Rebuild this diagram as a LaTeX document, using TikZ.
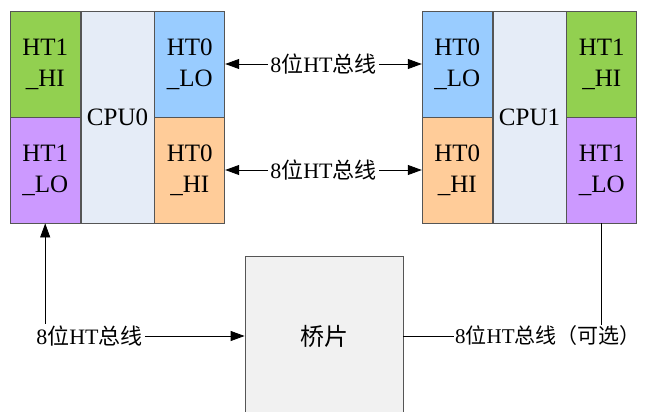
\documentclass[tikz,border=0pt]{standalone}
\usepackage{fontspec}
\setmainfont{Liberation Serif}
\newfontfamily\cjk{Noto Sans CJK SC}
\usepackage{tikz}
\usetikzlibrary{arrows.meta,positioning,calc}
\definecolor{frame}{HTML}{555555}
\definecolor{hgreen}{HTML}{92D050}
\definecolor{hblue}{HTML}{99CCFF}
\definecolor{horange}{HTML}{FFCC99}
\definecolor{hpurple}{HTML}{CC99FF}
\definecolor{core}{HTML}{E5ECF7}
\definecolor{bridgefill}{HTML}{F1F1F1}
\newcommand{\busname}{8{\cjk 位}HT{\cjk 总线}}

\begin{document}
\begin{tikzpicture}[
  x=1pt, y=-1pt,
  cell/.style={draw=frame, line width=0.8pt, minimum width=70pt, minimum height=106pt, inner sep=0pt, align=center, font=\fontsize{25}{31}\selectfont},
  core/.style={cell, fill=core, minimum width=73pt, minimum height=212pt},
  hg/.style={cell, fill=hgreen},
  hb/.style={cell, fill=hblue},
  ho/.style={cell, fill=horange},
  hp/.style={cell, fill=hpurple},
  lbl/.style={fill=white, inner sep=2pt, font=\fontsize{22}{26}\selectfont},
  arr/.style={-{Triangle[length=14pt, width=10pt]}, line width=0.8pt},
  dbl/.style={{Triangle[length=14pt, width=10pt]}-{Triangle[length=14pt, width=10pt]}, line width=0.8pt}
]
  \useasboundingbox (0,0) rectangle (646,412);
  % CPU0
  \node[core] (p0) at (117.5,117) {CPU0};
  \node[hg, anchor=north east] (p0h) at (p0.north west) {HT1\\\_HI};
  \node[hp, anchor=south east] (p0l) at (p0.south west) {HT1\\\_LO};
  \node[hb, anchor=north west] (p0a) at (p0.north east) {HT0\\\_LO};
  \node[ho, anchor=south west] (p0b) at (p0.south east) {HT0\\\_HI};
  % CPU1
  \node[core] (p1) at (529.5,117) {CPU1};
  \node[hb, anchor=north east] (p1a) at (p1.north west) {HT0\\\_LO};
  \node[ho, anchor=south east] (p1b) at (p1.south west) {HT0\\\_HI};
  \node[hg, anchor=north west] (p1h) at (p1.north east) {HT1\\\_HI};
  \node[hp, anchor=south west] (p1l) at (p1.south east) {HT1\\\_LO};
  % bridge
  \node[draw=frame, line width=0.8pt, fill=bridgefill, minimum width=158pt, minimum height=160pt, font=\fontsize{24}{28}\selectfont] (br) at (324,336) {{\cjk 桥片}};
  \node[lbl] (lb) at (89.5,336) {\busname};
  \node[lbl, inner sep=1pt, font=\fontsize{21}{25}\selectfont, anchor=west] (rb) at (454,336) {\busname{\cjk （可选）}};

  \draw[dbl] (p0a) -- node[lbl] {\busname} (p1a);
  \draw[dbl] (p0b) -- node[lbl] {\busname} (p1b);
  \draw[arr] (lb) -- (br);
  \draw[arr] (p0l.south |- lb.north) -- (p0l.south);
  \draw[line width=0.8pt] (br) -- (rb);
  \draw[line width=0.8pt] (p1l.south) -- (p1l.south |- rb.north);
\end{tikzpicture}
\end{document}
